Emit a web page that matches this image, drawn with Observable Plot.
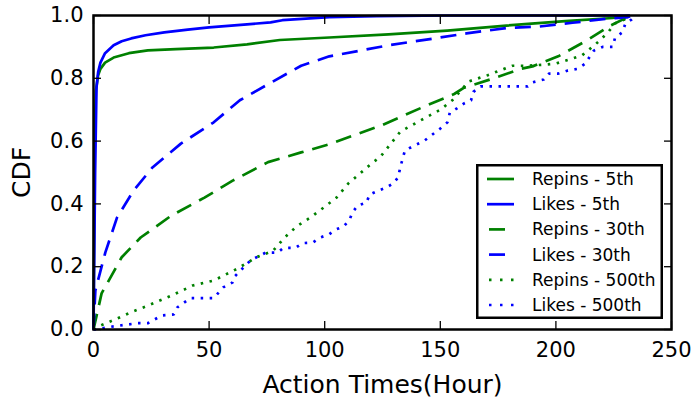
<!DOCTYPE html>
<html>
<head>
<meta charset="utf-8">
<script src="https://cdn.jsdelivr.net/npm/d3@7"></script>
<script src="https://cdn.jsdelivr.net/npm/@observablehq/plot@0.6"></script>
<style>
  html, body { margin: 0; padding: 0; background: #fff; }
  #chart { position: relative; width: 695px; height: 398px; font-family: "DejaVu Sans", sans-serif; overflow: hidden; }
  #legend { position: absolute; left: 476px; top: 164px; }
</style>
</head>
<body>
<div id="chart"></div>
<script>
// ---- data ----
const xTicks = [0, 50, 100, 150, 200, 250];
const yTicks = [0, 0.2, 0.4, 0.6, 0.8, 1.0];

const repins5X = [0, 0.5, 1, 2, 3, 5, 8.7, 15.3, 23.5, 35.7, 52, 66.4, 80.6, 102, 127.6, 153, 178.6, 204, 224.5, 232];
const repins5Y = [0, 0.6, 0.76, 0.81, 0.83, 0.85, 0.866, 0.88, 0.889, 0.893, 0.898, 0.908, 0.922, 0.93, 0.94, 0.952, 0.968, 0.982, 0.992, 1.0];

const likes5X = [0, 0.7, 1.3, 2, 3, 5, 8.7, 12.2, 16.3, 22.5, 30.6, 40.8, 50, 66.4, 76.6, 81.7, 91.9, 102, 122.5, 153, 232];
const likes5Y = [0, 0.5, 0.77, 0.82, 0.85, 0.88, 0.905, 0.918, 0.927, 0.937, 0.946, 0.955, 0.962, 0.972, 0.978, 0.985, 0.99, 0.995, 0.998, 1.0, 1.0];

const repins30X = [0, 3.5, 12.2, 20.4, 33.7, 48, 60.2, 75.5, 89.8, 102, 124.5, 143, 156, 160.3, 171.5, 184.8, 189.9, 201, 213.3, 223.6, 229.7, 232];
const repins30Y = [0, 0.115, 0.23, 0.293, 0.363, 0.42, 0.474, 0.533, 0.564, 0.59, 0.65, 0.71, 0.75, 0.77, 0.796, 0.83, 0.838, 0.87, 0.92, 0.968, 0.99, 1.0];

const likes30X = [0, 0.8, 5.1, 10.2, 17.4, 25.5, 37.8, 52, 63.3, 74.5, 89.8, 102, 127.6, 150, 161.3, 178.6, 193, 207.2, 222.5, 230.7, 233];
const likes30Y = [0, 0.124, 0.245, 0.357, 0.443, 0.516, 0.592, 0.66, 0.73, 0.777, 0.84, 0.87, 0.905, 0.93, 0.943, 0.96, 0.965, 0.977, 0.99, 0.994, 1.0];

const repins500X = [0, 0.8, 8.7, 16.3, 23.5, 33.7, 42.9, 52, 62.3, 70.4, 77.6, 82.7, 87.8, 93.9, 99.5, 105.1, 110.2, 115.3, 120.5, 124.1, 132.7, 141.5, 150, 155.2, 162.3, 170.5, 177.6, 181.2, 187.8, 196, 200, 207.2, 211.3, 217.4, 222.5, 225.6, 230.7, 232];
const repins500Y = [0, 0.006, 0.03, 0.055, 0.076, 0.108, 0.14, 0.156, 0.194, 0.23, 0.25, 0.293, 0.328, 0.357, 0.388, 0.42, 0.465, 0.497, 0.53, 0.55, 0.63, 0.666, 0.70, 0.73, 0.79, 0.81, 0.83, 0.84, 0.84, 0.844, 0.847, 0.863, 0.873, 0.91, 0.946, 0.975, 0.99, 1.0];

const likes500X = [0, 0.8, 8.7, 19, 23.5, 29.6, 34.7, 36.2, 41.9, 52, 56.1, 60.2, 61.2, 67.9, 74.5, 79.6, 82.2, 87.4, 90.4, 94.9, 98, 101.7, 104.6, 108.2, 110.8, 112, 114.3, 118.1, 119.4, 122.5, 126.6, 129.6, 131.7, 132.7, 133.7, 134.7, 138.8, 142.9, 150, 153.1, 154.1, 157.2, 160.3, 163.3, 164.3, 167.4, 172.5, 177.6, 182.7, 187.8, 189.9, 194.7, 197, 201.1, 205.2, 209.3, 212.8, 214.4, 216.4, 220.2, 224.6, 225.6, 228.7, 230.1, 232.7, 234.5];
const likes500Y = [0, 0, 0.01, 0.02, 0.02, 0.045, 0.048, 0.07, 0.1, 0.1, 0.134, 0.15, 0.17, 0.22, 0.245, 0.245, 0.26, 0.26, 0.275, 0.277, 0.293, 0.302, 0.318, 0.328, 0.35, 0.373, 0.395, 0.404, 0.43, 0.44, 0.452, 0.465, 0.484, 0.516, 0.544, 0.57, 0.586, 0.6, 0.64, 0.66, 0.69, 0.704, 0.72, 0.73, 0.757, 0.774, 0.774, 0.774, 0.774, 0.774, 0.787, 0.796, 0.815, 0.815, 0.825, 0.83, 0.847, 0.866, 0.888, 0.9, 0.9, 0.93, 0.946, 0.975, 0.987, 1.0];

const seriesNames = ["Repins - 5th", "Likes - 5th", "Repins - 30th", "Likes - 30th", "Repins - 500th", "Likes - 500th"];
const seriesColors = ["#008000", "#0000ff", "#008000", "#0000ff", "#008000", "#0000ff"];
const seriesDash = [null, null, "16,9", "16,9", "2.5,6.5", "2.5,6.5"];
const seriesX = [repins5X, likes5X, repins30X, likes30X, repins500X, likes500X];
const seriesY = [repins5Y, likes5Y, repins30Y, likes30Y, repins500Y, likes500Y];

// ---- build ----
const lineMarks = seriesNames.map((name, i) => {
  const rows = seriesX[i].map((x, j) => ({x, y: seriesY[i][j]}));
  return Plot.line(rows, {
    x: "x", y: "y",
    stroke: seriesColors[i],
    strokeWidth: 2.7,
    strokeDasharray: seriesDash[i] || undefined,
    strokeLinecap: "butt",
    strokeLinejoin: "round"
  });
});

const fmt = d3.format(".1f");
const plot = Plot.plot({
  width: 695,
  height: 398,
  marginLeft: 93,
  marginRight: 24,
  marginTop: 15,
  marginBottom: 69,
  style: {fontFamily: "DejaVu Sans, sans-serif", fontSize: "21px", background: "#fff", color: "#000", overflow: "visible"},
  x: {domain: [0, 250], ticks: xTicks},
  y: {domain: [0, 1], ticks: yTicks},
  marks: [
    ...lineMarks,
    Plot.axisX(xTicks, {anchor: "bottom", tickSize: -8, tickPadding: 21, strokeWidth: 1.3, fontSize: 21, label: "Action Times(Hour)", labelAnchor: "center", labelOffset: 63, labelArrow: "none"}),
    Plot.axisX(xTicks, {anchor: "top", tickSize: -8, tickFormat: () => "", strokeWidth: 1.3, label: null}),
    Plot.axisY(yTicks, {anchor: "left", tickSize: -8, tickPadding: 18, strokeWidth: 1.3, fontSize: 21, tickFormat: fmt, label: "CDF", labelAnchor: "center", labelOffset: 81, labelArrow: "none"}),
    Plot.axisY(yTicks, {anchor: "right", tickSize: -8, tickFormat: () => "", strokeWidth: 1.3, label: null}),
    Plot.frame({stroke: "#000", strokeWidth: 2.5})
  ]
});

// enlarge axis titles
plot.querySelectorAll("[aria-label='x-axis label'], [aria-label='y-axis label']").forEach(g => {
  g.setAttribute("font-size", "25");
  g.querySelectorAll("text").forEach(t => t.setAttribute("font-size", "25"));
});

const chart = document.getElementById("chart");
chart.appendChild(plot);

// ---- legend overlay ----
const lw = 187, lh = 155;
const legend = d3.create("svg").attr("id", "legend").attr("width", lw).attr("height", lh)
  .style("font-family", "DejaVu Sans, sans-serif");
legend.append("rect").attr("x", 1.25).attr("y", 1.25).attr("width", lw - 2.5).attr("height", lh - 2.5)
  .attr("fill", "#fff").attr("stroke", "#000").attr("stroke-width", 2.5);
seriesNames.forEach((name, i) => {
  const cy = 15 + i * 25.2;
  legend.append("line").attr("x1", 11).attr("x2", 38).attr("y1", cy).attr("y2", cy)
    .attr("stroke", seriesColors[i]).attr("stroke-width", 2.7)
    .attr("stroke-dasharray", seriesDash[i] ? (i < 4 ? "16,30" : "2.5,8.5") : null)
    .attr("stroke-dashoffset", -2);
  legend.append("text").attr("x", 56).attr("y", cy).attr("dy", "0.35em")
    .attr("font-size", 17).attr("fill", "#000").text(name);
});
chart.appendChild(legend.node());
</script>
</body>
</html>
